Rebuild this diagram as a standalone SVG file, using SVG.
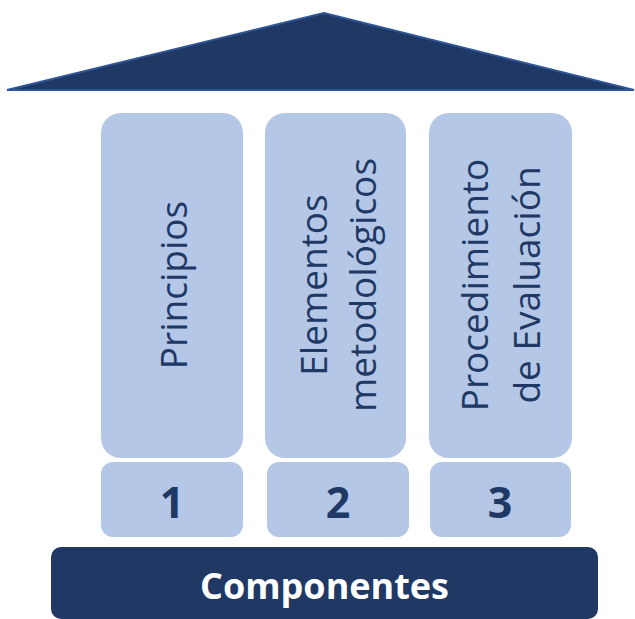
<svg xmlns="http://www.w3.org/2000/svg" width="635" height="619" viewBox="0 0 635 619">
<style>
.pillar{fill:#B4C7E7}
.num{fill:#B4C7E7}
.lbl{font-family:"Open Sans","Noto Sans",sans-serif;font-size:37px;fill:#203864;text-anchor:middle}
.n{font-family:"Open Sans","Noto Sans",sans-serif;font-size:43px;font-weight:bold;fill:#203864;text-anchor:middle}
.base-t{font-family:"Open Sans","Noto Sans",sans-serif;font-size:36px;font-weight:bold;fill:#FFFFFF;text-anchor:middle}
</style>
<rect width="635" height="619" fill="#FFFFFF"/>
<g id="roof">
<polygon points="324,13 7,90 634,90" fill="#203864" stroke="#2F5597" stroke-width="2" stroke-linejoin="miter"/>
</g>
<g id="pillar1">
<rect class="pillar" x="101" y="113" width="142" height="345" rx="20"/>
<text class="lbl" transform="translate(187,285) rotate(-90)">Principios</text>
</g>
<g id="pillar2">
<rect class="pillar" x="265" y="113" width="141" height="345" rx="20"/>
<text class="lbl" transform="translate(327,285) rotate(-90)">Elementos</text>
<text class="lbl" transform="translate(376,285) rotate(-90)">metodológicos</text>
</g>
<g id="pillar3">
<rect class="pillar" x="429" y="113" width="143" height="345" rx="20"/>
<text class="lbl" transform="translate(488,285) rotate(-90)">Procedimiento</text>
<text class="lbl" transform="translate(540,285) rotate(-90)">de Evaluación</text>
</g>
<g id="num1">
<rect class="num" x="101" y="462" width="142" height="75" rx="12"/>
<text class="n" x="172" y="518">1</text>
</g>
<g id="num2">
<rect class="num" x="267" y="462" width="142" height="75" rx="12"/>
<text class="n" x="338" y="518">2</text>
</g>
<g id="num3">
<rect class="num" x="430" y="462" width="141" height="75" rx="12"/>
<text class="n" x="500" y="518">3</text>
</g>
<g id="base">
<rect x="51" y="547" width="547" height="72" rx="10" fill="#203864"/>
<text class="base-t" x="324.5" y="599">Componentes</text>
</g>
<g id="connectors"/>
</svg>
